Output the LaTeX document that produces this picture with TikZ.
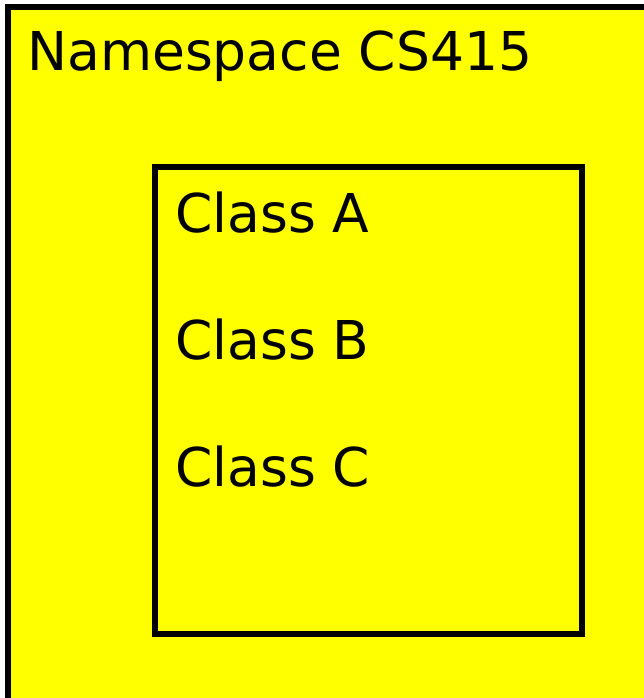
\documentclass[tikz,border=0pt]{standalone}
\usepackage{fontspec}
\setmainfont{DejaVu Sans}
\definecolor{boxyellow}{HTML}{FFFF00}
\begin{document}
\begin{tikzpicture}[x=1pt,y=-1pt,
  frame/.style={draw=black,line width=6pt,fill=boxyellow},
  label/.style={anchor=base west,inner sep=0pt,font=\fontsize{53.5}{60}\selectfont}]
\useasboundingbox (0,0) rectangle (644,698);
\clip (0,0) rectangle (644,698);
\fill[white] (0,0) rectangle (644,698);
\draw[frame] (8,7) rectangle (649,702);
\node[label] (ns) at (27,71) {Namespace CS415};
\draw[frame] (155,167) rectangle (582,634);
\node[label] (ca) at (175,232) {Class A};
\node[label] (cb) at (175,359) {Class B};
\node[label] (cc) at (175,486) {Class C};
\end{tikzpicture}
\end{document}
